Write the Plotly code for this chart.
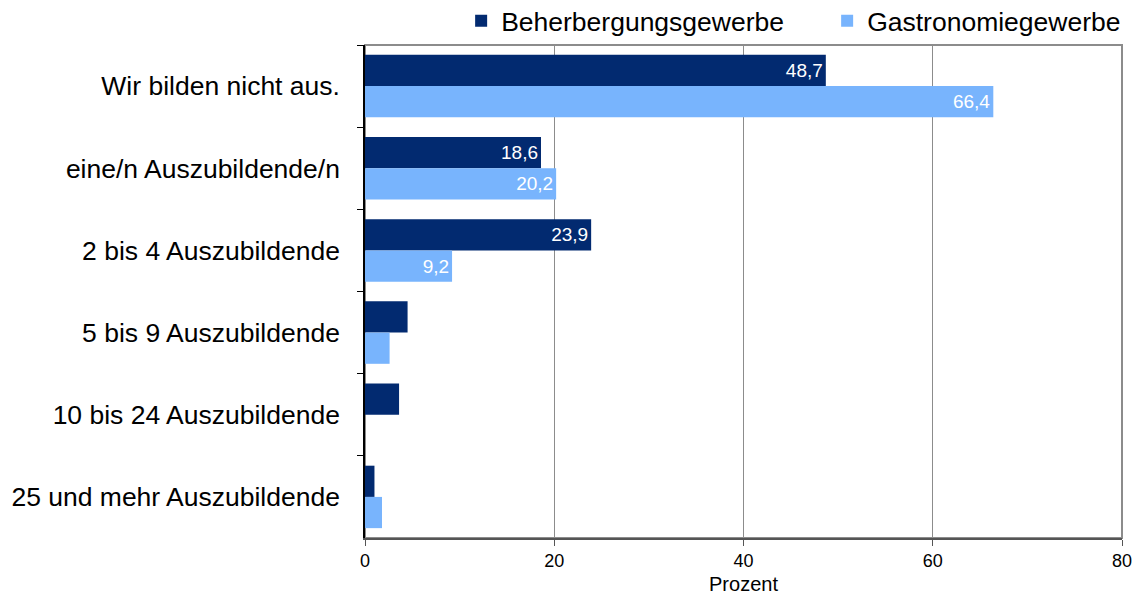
import plotly.graph_objects as go

categories = ["Wir bilden nicht aus.", "eine/n Auszubildende/n", "2 bis 4 Auszubildende",
              "5 bis 9 Auszubildende", "10 bis 24 Auszubildende", "25 und mehr Auszubildende"]
beherbergung = [48.7, 18.6, 23.9, 4.5, 3.6, 1.0]
gastronomie = [66.4, 20.2, 9.2, 2.6, 0.0, 1.8]
x_ticks = [0, 20, 40, 60, 80]

def labels(vals):
    return [f"{v:.1f}".replace(".", ",") if v > 5 else "" for v in vals]

FONT = "Liberation Sans, Arial, sans-serif"

fig = go.Figure()
fig.add_trace(go.Bar(y=categories, x=beherbergung, orientation="h", name="Beherbergungsgewerbe",
                     marker=dict(color="#022a70", line=dict(width=0)),
                     text=labels(beherbergung), textposition="inside", insidetextanchor="end",
                     textfont=dict(color="white", size=19, family=FONT), hoverinfo="x"))
fig.add_trace(go.Bar(y=categories, x=gastronomie, orientation="h", name="Gastronomiegewerbe",
                     marker=dict(color="#78b4fd", line=dict(width=0)),
                     text=labels(gastronomie), textposition="inside", insidetextanchor="end",
                     textfont=dict(color="white", size=19, family=FONT), hoverinfo="x"))

fig.update_layout(
    width=1135, height=589,
    margin=dict(l=357, r=21, t=37, b=59, autoexpand=False),
    paper_bgcolor="white", plot_bgcolor="white",
    font=dict(family=FONT, color="black"),
    barmode="group", bargap=0.24, bargroupgap=0,
    uniformtext=dict(mode="show", minsize=10),
    legend=dict(orientation="h", x=0.127, xanchor="left", y=1.0, yanchor="bottom",
                font=dict(size=26.5, family=FONT), traceorder="normal",
                itemwidth=30, entrywidth=321, tracegroupgap=0, bgcolor="rgba(0,0,0,0)"),
    xaxis=dict(range=[0, 80], tickvals=x_ticks, ticktext=[str(t) for t in x_ticks],
               showgrid=True, gridcolor="#8c8c8c", gridwidth=1,
               showline=True, linecolor="#555555", linewidth=1.5,
               ticks="outside", ticklen=6, tickcolor="#555555",
               tickfont=dict(size=18, family=FONT),
               title=dict(text="Prozent", font=dict(size=20, family=FONT), standoff=7),
               zeroline=False, fixedrange=True, automargin=False),
    yaxis=dict(autorange="reversed", showline=True, linecolor="black", linewidth=1.5,
               ticks="outside", ticklen=6, tickcolor="black", tickson="boundaries",
               tickfont=dict(size=26.5, family=FONT), ticklabelstandoff=18,
               showgrid=False, fixedrange=True, automargin=False),
    shapes=[dict(type="rect", xref="x domain", yref="y domain", x0=0, x1=1, y0=0, y1=1,
                 line=dict(color="#8c8c8c", width=2), layer="below")],
)

fig.write_html("out.html")
